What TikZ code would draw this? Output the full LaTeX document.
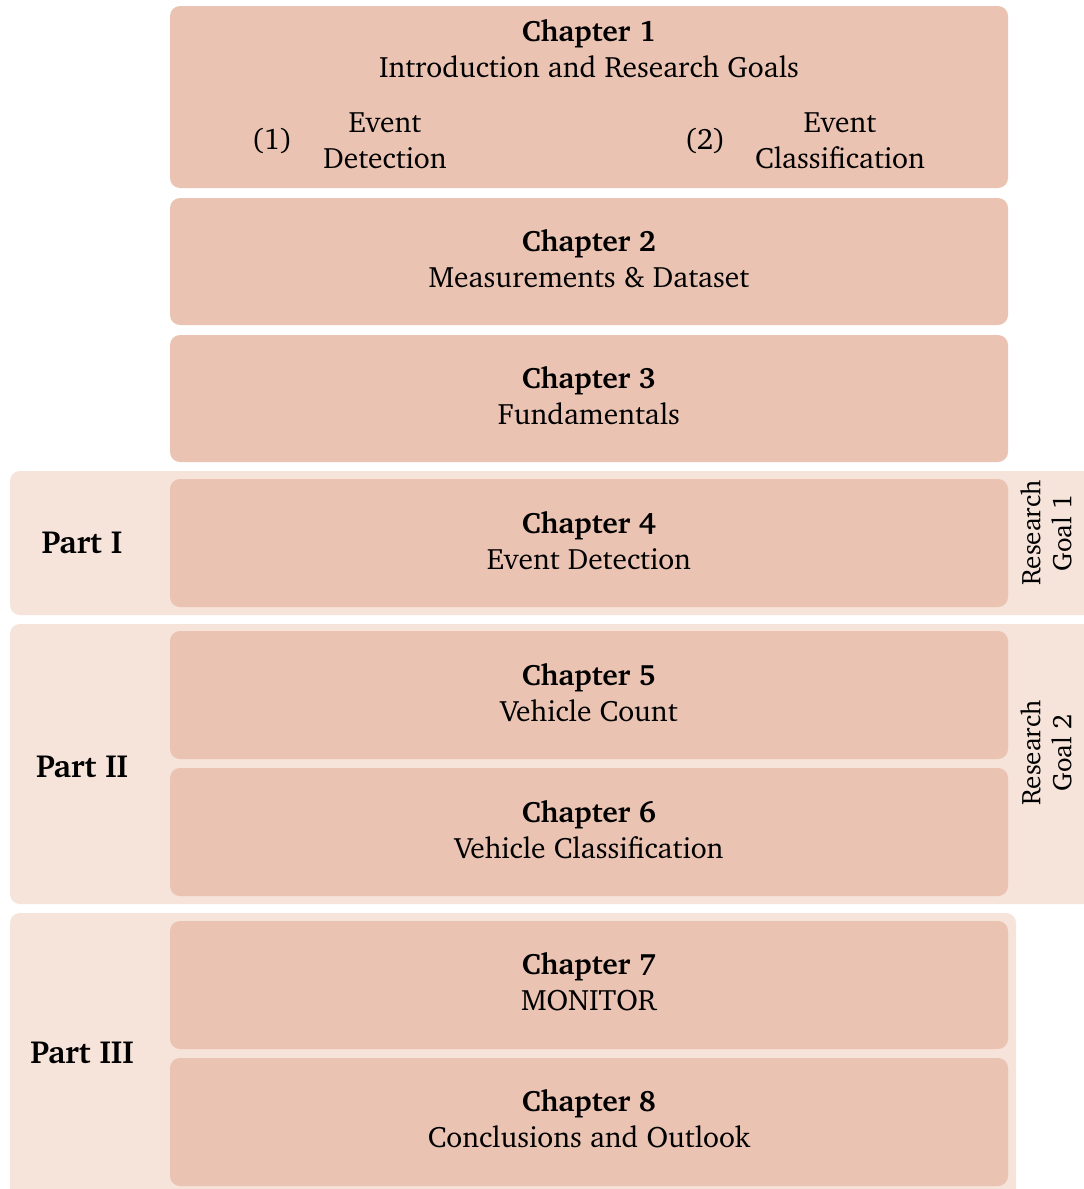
\documentclass[tikz,border=0pt]{standalone}
\usepackage[T1]{fontenc}
\usepackage{charter}
\definecolor{chapfill}{HTML}{EAC3B2}
\definecolor{partfill}{HTML}{F6E3DA}
\tikzset{
  chapbox/.style={fill=chapfill, rounded corners=10pt, minimum width=838pt, inner sep=0pt},
  partbox/.style={fill=partfill, rounded corners=10pt},
  chaptext/.style={align=center, inner sep=0pt, font=\fontsize{29.5}{36}\selectfont},
  partlabel/.style={font=\fontsize{32}{36}\selectfont\bfseries},
  goallabel/.style={rotate=90, align=center, font=\fontsize{27}{31}\selectfont}
}
\begin{document}
\begin{tikzpicture}[x=1pt, y=-1pt]
  \clip (0,0) rectangle (1084,1189);
  \fill[white] (0,0) rectangle (1084,1189);

  % part backgrounds
  \fill[partbox] (10,471) rectangle (1100,615);
  \fill[partbox] (10,624) rectangle (1100,904);
  \fill[partbox] (10,913) rectangle (1016,1205);

  % chapter boxes
  \node[chapbox, minimum height=182pt] (ch1) at (589,97) {};
  \node[chapbox, minimum height=127pt] (ch2) at (589,261.5) {};
  \node[chapbox, minimum height=127pt] (ch3) at (589,398.5) {};
  \node[chapbox, minimum height=128pt] (ch4) at (589,543) {};
  \node[chapbox, minimum height=128pt] (ch5) at (589,695) {};
  \node[chapbox, minimum height=128pt] (ch6) at (589,832) {};
  \node[chapbox, minimum height=128pt] (ch7) at (589,985) {};
  \node[chapbox, minimum height=128pt] (ch8) at (589,1122) {};

  % chapter 1 with the two research goals
  \node[chaptext] (ch1t) at (589,49) {\textbf{Chapter 1}\\Introduction and Research Goals};
  \node[chaptext] (g1n) at (272,141) {(1)};
  \node[chaptext] (g1t) at (385,141) {Event\\Detection};
  \node[chaptext] (g2n) at (705,141) {(2)};
  \node[chaptext] (g2t) at (840,141) {Event\\Classification};

  % chapter titles
  \node[chaptext] (ch2t) at (589,259) {\textbf{Chapter 2}\\Measurements \& Dataset};
  \node[chaptext] (ch3t) at (589,396) {\textbf{Chapter 3}\\Fundamentals};
  \node[chaptext] (ch4t) at (589,541) {\textbf{Chapter 4}\\Event Detection};
  \node[chaptext] (ch5t) at (589,693) {\textbf{Chapter 5}\\Vehicle Count};
  \node[chaptext] (ch6t) at (589,830) {\textbf{Chapter 6}\\Vehicle Classification};
  \node[chaptext] (ch7t) at (589,982) {\textbf{Chapter 7}\\MONITOR};
  \node[chaptext] (ch8t) at (589,1119) {\textbf{Chapter 8}\\Conclusions and Outlook};

  % part labels
  \node[partlabel] (p1) at (82,543) {Part I};
  \node[partlabel] (p2) at (82,767) {Part II};
  \node[partlabel] (p3) at (82,1053) {Part III};

  % research goal labels
  \node[goallabel] (rg1) at (1046,533) {Research\\Goal 1};
  \node[goallabel] (rg2) at (1046,753) {Research\\Goal 2};
\end{tikzpicture}
\end{document}
